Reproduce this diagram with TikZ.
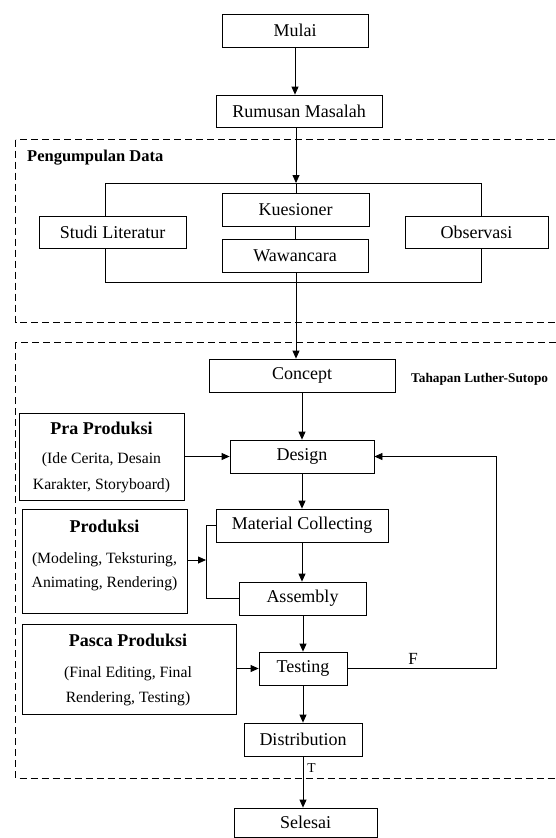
\documentclass[tikz,border=0pt]{standalone}
\usepackage{fontspec}
\setmainfont{Liberation Serif}
\usetikzlibrary{arrows.meta}
\begin{document}
\begin{tikzpicture}[x=1pt,y=-1pt,
 box/.style={draw, line width=0.8pt, fill=white, inner sep=0pt, font=\fontsize{18}{20}\selectfont},
 arr/.style={line width=0.8pt, -{Triangle[length=8pt,width=7pt]}},
 ln/.style={line width=0.8pt},
 grp/.style={draw, line width=0.8pt, dash pattern=on 7pt off 4pt},
 ttl/.style={font=\fontsize{18}{20}\selectfont\bfseries, anchor=base, inner sep=0pt},
 sub/.style={font=\fontsize{15.7}{18}\selectfont, anchor=base, inner sep=0pt},
 lab/.style={font=\fontsize{#1}{#1}\selectfont\bfseries, anchor=base west, inner sep=0pt}]
\useasboundingbox (0,0) rectangle (556,838);
\clip (0,0) rectangle (556,838);
% group frames
\draw[grp] (15.5,139.5) rectangle (570,322);
\draw[grp] (15.5,342) rectangle (570,778);
\node[lab=16.5] (pd) at (27,161) {Pengumpulan Data};
\node[lab=13.3] (tls) at (411,382) {Tahapan Luther-Sutopo};
% data collection frame
\draw[ln] (105,183) rectangle (481,282);
\coordinate (ftop) at (296,183);
% nodes
\node[box, minimum width=146pt, minimum height=33pt] (mulai) at (295,30.5) {Mulai};
\node[box, minimum width=166pt, minimum height=32pt] (rumusan) at (299,111) {Rumusan Masalah};
\node[box, minimum width=147pt, minimum height=32pt] (studi) at (112.5,232) {Studi Literatur};
\node[box, minimum width=147pt, minimum height=33pt] (kues) at (295.5,209.5) {Kuesioner};
\node[box, minimum width=146pt, minimum height=33pt] (waw) at (295,255.5) {Wawancara};
\node[box, minimum width=143pt, minimum height=32pt] (obs) at (476.5,232) {Observasi};
\node[box, minimum width=186pt, minimum height=33pt] (concept) at (302,375.5) {Concept};
\node[box, minimum width=144pt, minimum height=33pt] (design) at (302,456.5) {Design};
\node[box, minimum width=172pt, minimum height=33pt] (matcol) at (302,525.5) {Material Collecting};
\node[box, minimum width=127pt, minimum height=33pt] (assembly) at (302.5,598.5) {Assembly};
\node[box, minimum width=88pt, minimum height=33pt] (testing) at (303,668.5) {Testing};
\node[box, minimum width=118pt, minimum height=33pt] (distribution) at (303,739.5) {Distribution};
\node[box, minimum width=143pt, minimum height=29pt] (selesai) at (305.5,822.5) {Selesai};
% side boxes
\node[box, minimum width=165pt, minimum height=87pt] (pra) at (101.5,456.5) {};
\node[ttl] (praT) at (101.5,434) {Pra Produksi};
\node[sub] (pra1) at (101.5,463.5) {(Ide Cerita, Desain};
\node[sub] (pra2) at (101.5,489) {Karakter, Storyboard)};
\node[box, minimum width=165pt, minimum height=104pt] (prod) at (104.5,561) {};
\node[ttl] (prodT) at (104.5,532) {Produksi};
\node[sub] (prod1) at (104.5,563) {(Modeling, Teksturing,};
\node[sub] (prod2) at (104.5,587.5) {Animating, Rendering)};
\node[box, minimum width=214pt, minimum height=90pt] (pasca) at (129,669) {};
\node[ttl] (pascaT) at (128,646) {Pasca Produksi};
\node[sub] (pasca1) at (128,677) {(Final Editing, Final};
\node[sub] (pasca2) at (128,702) {Rendering, Testing)};
% connectors
\draw[arr] (mulai.south) -- (mulai.south |- rumusan.north);
\draw[arr] (ftop |- rumusan.south) -- (ftop);
\draw[ln] (ftop) -- (ftop |- kues.north);
\draw[ln] (kues.south) -- (kues.south |- waw.north);
\draw[arr] (waw.south -| ftop) -- (ftop |- concept.north);
\draw[arr] (concept.south) -- (design.north);
\draw[arr] (design.south) -- (matcol.north);
\draw[arr] (matcol.south) -- (matcol.south |- assembly.north);
\draw[arr] (assembly.south -| testing.north) -- (testing.north);
\draw[arr] (testing.south) -- (distribution.north);
\draw[arr] (distribution.south) -- (distribution.south |- selesai.north);
\draw[arr] (pra.east) -- (design.west);
\coordinate (bk) at (206,560);
\draw[ln] (matcol.west) -- (matcol.west -| bk) -- (assembly.west -| bk) -- (assembly.west);
\draw[arr] (prod.east |- bk) -- (bk);
\draw[arr] (pasca.east) -- (pasca.east |- testing.west) -- (testing.west);
\coordinate (fb) at (496,600);
\draw[arr] (testing.east) -- (testing.east -| fb) -- (design.east -| fb) -- (design.east);
\node[font=\fontsize{17}{17}\selectfont, anchor=base, inner sep=0pt] (F) at (413,664) {F};
\node[font=\fontsize{13.6}{14}\selectfont, anchor=base, inner sep=0pt] (T) at (311.5,772) {T};
\end{tikzpicture}
\end{document}
